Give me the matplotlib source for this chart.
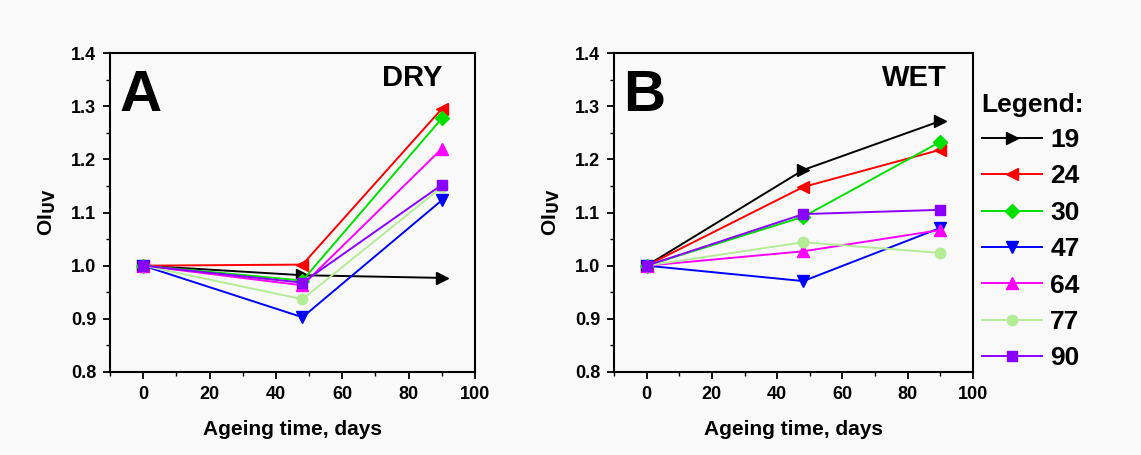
import matplotlib
matplotlib.use('agg')
import matplotlib.pyplot as plt
from matplotlib.ticker import MultipleLocator

plt.rcParams['font.family'] = ['Liberation Sans', 'DejaVu Sans']
plt.rcParams['font.weight'] = 'bold'

days = [0, 48, 90]
series = ["19", "24", "30", "47", "64", "77", "90"]

dry_19 = [1.000, 0.982, 0.977]
dry_24 = [1.000, 1.002, 1.295]
dry_30 = [1.000, 0.972, 1.277]
dry_47 = [1.000, 0.903, 1.123]
dry_64 = [1.000, 0.963, 1.220]
dry_77 = [1.000, 0.937, 1.148]
dry_90 = [1.000, 0.968, 1.152]

wet_19 = [1.000, 1.180, 1.272]
wet_24 = [1.000, 1.148, 1.218]
wet_30 = [1.000, 1.092, 1.233]
wet_47 = [1.000, 0.971, 1.071]
wet_64 = [1.000, 1.027, 1.067]
wet_77 = [1.000, 1.044, 1.024]
wet_90 = [1.000, 1.097, 1.105]

dry = [dry_19, dry_24, dry_30, dry_47, dry_64, dry_77, dry_90]
wet = [wet_19, wet_24, wet_30, wet_47, wet_64, wet_77, wet_90]

colors = ['#000000', '#ff0000', '#00e000', '#0000ff', '#ff00ff', '#b4ec96', '#8a00ff']
markers = ['>', '<', 'D', 'v', '^', 'o', 's']
msizes = [8.5, 8.5, 7, 8.5, 8.5, 7.5, 7]

fig = plt.figure(figsize=(11.41, 4.55), dpi=100)
fig.patch.set_facecolor('#f9f9f9')

ax1 = fig.add_axes([110/1141, 83/455, 365/1141, 319/455])
ax2 = fig.add_axes([614/1141, 83/455, 359/1141, 319/455])


def setup(ax, letter, cond, cond_x):
    ax.set_facecolor('#f9f9f9')
    ax.set_xlim(-10, 100)
    ax.set_ylim(0.8, 1.4)
    ax.xaxis.set_major_locator(MultipleLocator(20))
    ax.xaxis.set_minor_locator(MultipleLocator(10))
    ax.yaxis.set_minor_locator(MultipleLocator(0.05))
    ax.set_yticks([0.8, 0.9, 1.0, 1.1, 1.2, 1.3, 1.4])
    ax.set_yticklabels(['0.8', '0.9', '1.0', '1.1', '1.2', '1.3', '1.4'])
    ax.tick_params(which='major', length=5, width=1.3, labelsize=13, direction='out', pad=5)
    ax.tick_params(which='minor', length=3, width=1.0, direction='out')
    for s in ax.spines.values():
        s.set_linewidth(1.5)
    ax.set_xlabel('Ageing time, days', fontsize=15, fontweight='bold', labelpad=12)
    ax.set_ylabel('OI$_{\\mathbf{UV}}$', fontsize=15, fontweight='bold', labelpad=9)
    ax.text(0.025, 0.95, letter, transform=ax.transAxes, fontsize=42, fontweight='bold',
            va='top', ha='left')
    ax.text(cond_x, 0.965, cond, transform=ax.transAxes, fontsize=21, fontweight='bold',
            va='top', ha='right')


for ax, data in [(ax1, dry), (ax2, wet)]:
    for vals, c, m, ms, lab in zip(data, colors, markers, msizes, series):
        ax.plot(days, vals, color=c, marker=m, markersize=ms, linewidth=1.4, label=lab)

setup(ax1, 'A', 'DRY', 0.91)
setup(ax2, 'B', 'WET', 0.927)

leg = ax2.legend(loc='upper left', bbox_to_anchor=(1.024, 0.875), frameon=False,
                 title='Legend:', alignment='left', handlelength=2.3, handletextpad=0.3,
                 labelspacing=0.47, borderaxespad=0, borderpad=0,
                 prop={'size': 19, 'weight': 'bold'},
                 title_fontproperties={'size': 19, 'weight': 'bold'})
leg._legend_box.sep = 8

fig.savefig('out.png', dpi=100, facecolor=fig.get_facecolor())
